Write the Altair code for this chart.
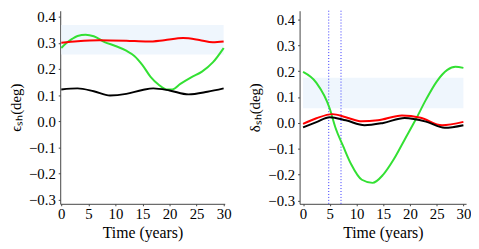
import altair as alt
import pandas as pd

# ---- data ----
L_green_x = [0, 1, 2, 3, 4.5, 6, 8, 10, 12, 13.5, 15, 16.5, 18, 19.5, 20.5, 22, 24, 26, 28, 30]
L_green_y = [0.28, 0.30, 0.315, 0.326, 0.331, 0.325, 0.303, 0.288, 0.27, 0.25, 0.215, 0.17, 0.14,
             0.122, 0.122, 0.143, 0.168, 0.19, 0.225, 0.28]
L_red_x = [0, 3, 7, 12, 16, 19, 22.5, 25.5, 28, 30]
L_red_y = [0.300, 0.306, 0.31, 0.308, 0.305, 0.31, 0.318, 0.311, 0.302, 0.305]
L_black_x = [0, 3, 6, 9, 12, 15, 17, 20, 23.5, 27, 30]
L_black_y = [0.122, 0.126, 0.115, 0.099, 0.105, 0.12, 0.126, 0.118, 0.103, 0.113, 0.126]

R_green_x = [0, 2.5, 5, 6, 7.5, 9, 11, 13, 15, 17, 19, 21, 23, 25, 27, 28.5, 30]
R_green_y = [0.197, 0.155, 0.055, -0.015, -0.09, -0.16, -0.22, -0.232, -0.2, -0.14, -0.065,
             0.01, 0.09, 0.16, 0.205, 0.217, 0.213]
R_red_x = [0, 2.5, 5.5, 8, 11, 14, 18.5, 22, 26, 30]
R_red_y = [-0.004, 0.018, 0.034, 0.022, 0.006, 0.010, 0.029, 0.02, -0.009, 0.004]
R_black_x = [0, 2.5, 5, 8, 11.5, 15, 19, 23, 26.5, 30]
R_black_y = [-0.017, 0.003, 0.022, 0.01, -0.009, 0.0, 0.019, 0.005, -0.019, -0.009]

L_band = [0.255, 0.368]
R_band = [0.057, 0.175]
R_vlines = [4.8, 7.1]

x_ticks = [0, 5, 10, 15, 20, 25, 30]
y_ticks = [-0.3, -0.2, -0.1, 0.0, 0.1, 0.2, 0.3, 0.4]

series_order = ["black", "red", "green"]
series_colors = ["#000000", "#ff0000", "#33e033"]

FONT = "Liberation Serif"


def lines_df(gx, gy, rx, ry, bx, by):
    rows = []
    for name, xs, ys in (("green", gx, gy), ("red", rx, ry), ("black", bx, by)):
        for a, b in zip(xs, ys):
            rows.append({"t": a, "v": b, "s": name})
    return pd.DataFrame(rows)


def panel(df, band, xdom, ydom, ytitle, width, vlines=None):
    xs = alt.Scale(domain=xdom, nice=False, zero=False)
    ys = alt.Scale(domain=ydom, nice=False, zero=False)
    xax = alt.Axis(values=x_ticks, format="d", title="Time (years)", grid=False,
                   tickSize=2, labelPadding=1, titlePadding=3, labelOverlap=False,
                   labelFont=FONT, titleFont=FONT, labelFontSize=15, titleFontSize=16)
    yax = alt.Axis(values=y_ticks, format=".1f", title=ytitle, grid=False,
                   tickSize=2, labelPadding=3, titlePadding=5, labelOverlap=False,
                   labelFont=FONT, titleFont=FONT, labelFontSize=15, titleFontSize=15)
    band_df = pd.DataFrame({"x0": [0], "x1": [30], "y0": [band[0]], "y1": [band[1]]})
    rect = alt.Chart(band_df).mark_rect(color="#eff6fd").encode(
        x=alt.X("x0:Q", scale=xs, axis=xax), x2="x1:Q",
        y=alt.Y("y0:Q", scale=ys, axis=yax), y2="y1:Q")
    layers = [rect]
    if vlines:
        vdf = pd.DataFrame({"t": vlines})
        layers.append(alt.Chart(vdf).mark_rule(color="#3333ff", strokeDash=[1, 2], strokeWidth=1).encode(
            x=alt.X("t:Q", scale=xs, axis=xax)))
    line = alt.Chart(df).mark_line(strokeWidth=2, interpolate="monotone").encode(
        x=alt.X("t:Q", scale=xs, axis=xax),
        y=alt.Y("v:Q", scale=ys, axis=yax),
        color=alt.Color("s:N", scale=alt.Scale(domain=series_order, range=series_colors), legend=None),
        detail="s:N")
    layers.append(line)
    return alt.layer(*layers).properties(width=width, height=196)


left = panel(lines_df(L_green_x, L_green_y, L_red_x, L_red_y, L_black_x, L_black_y),
             L_band, [-0.2, 30.2], [-0.315, 0.4226], "ϵₛₕ(deg)", 167)
right = panel(lines_df(R_green_x, R_green_y, R_red_x, R_red_y, R_black_x, R_black_y),
              R_band, [-0.65, 30.5], [-0.313, 0.434], "δₛₕ(deg)", 169, vlines=R_vlines)

chart = alt.hconcat(left, right, spacing=16).properties(
    padding=0
).configure_view(stroke=None).configure_axis(
    labelColor="#000000", titleColor="#000000", titleFontWeight="normal",
    domainColor="#444444", tickColor="#444444"
)

chart.save("out.html", embed_options={"renderer": "svg", "actions": False})
